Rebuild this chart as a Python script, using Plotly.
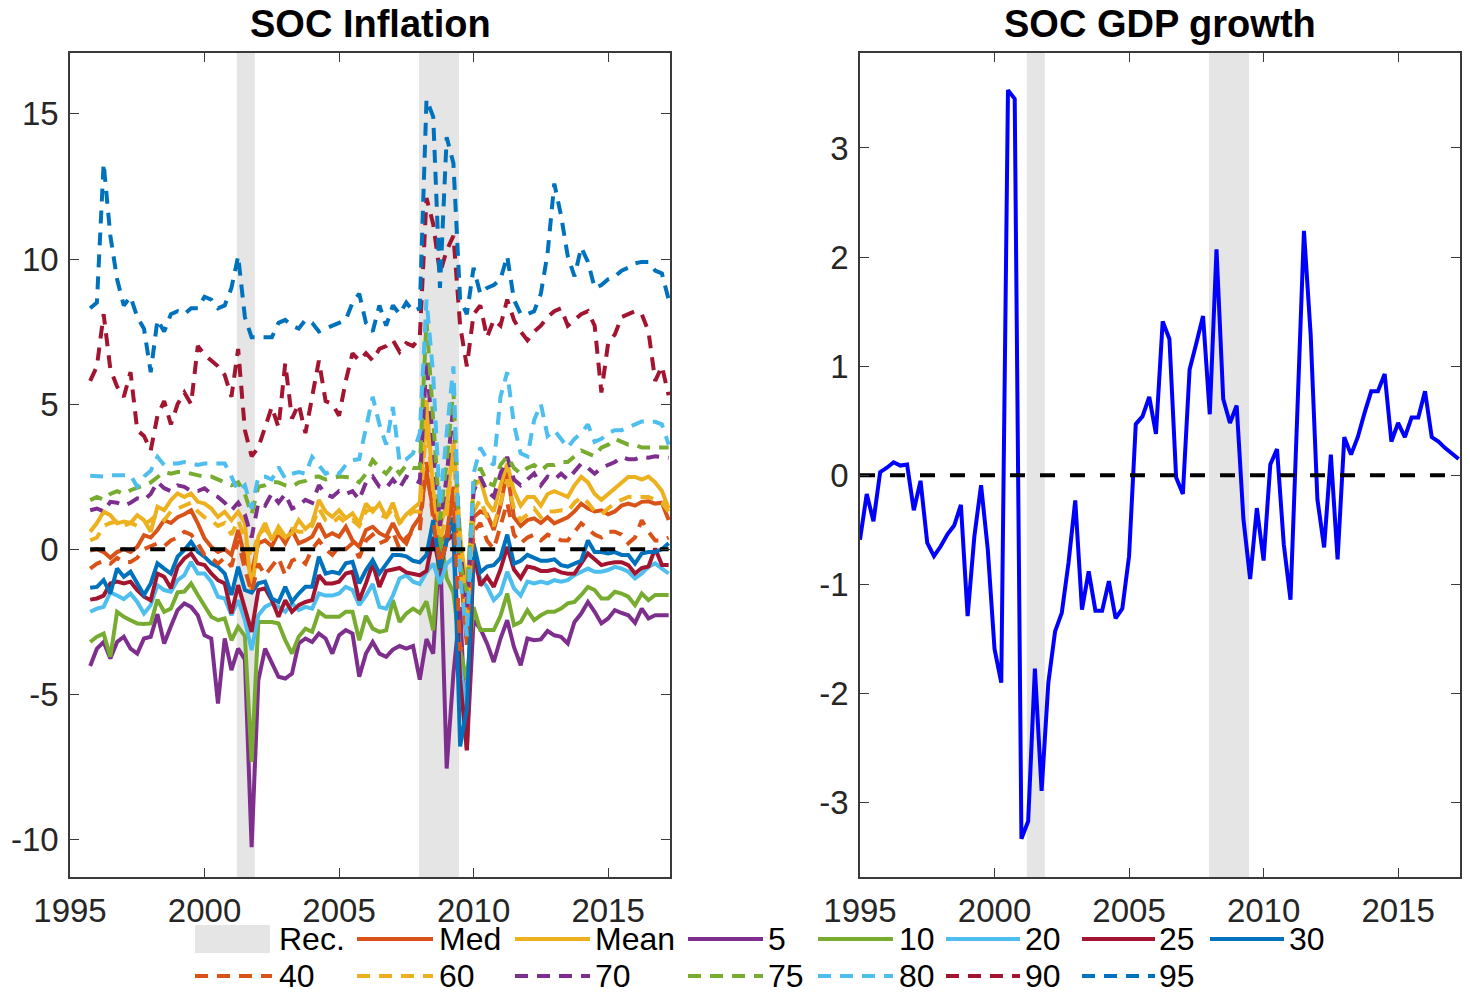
import plotly.graph_objects as go

# ---------------- DATA ----------------
# quarterly time stamps (decimal years)
infl_dates = [1995.75 + 0.25 * i for i in range(87)]
gdp_dates = [1995.0 + 0.25 * i for i in range(90)]

rec_start = [2001.2, 2007.97]
rec_end = [2001.87, 2009.46]

x_ticks = [1995, 2000, 2005, 2010, 2015]
y_ticks_infl = [-10, -5, 0, 5, 10, 15]
y_ticks_gdp = [-3, -2, -1, 0, 1, 2, 3]

med = [-0.05, 0.0, -0.1, -0.3, -0.1, 0.0, -0.1, 0.08, 0.48, 0.4,
       0.66, 1.0, 0.9, 1.1, 1.2, 1.34, 0.89, 0.37, 0.08, -0.1,
       0.0, -0.2, 0.66, -0.3, -0.8, 0.2, 0.3, 0.1, 0.55, 0.2,
       0.66, 0.2, 0.3, 0.43, 0.89, 0.43, 0.55, 0.43, 0.77, 0.3,
       0.08, 0.66, 0.77, 0.55, 0.43, 0.9, 0.43, 0.2, 0.77, 1.1,
       2.7, 1.3, 0.2, 0.5, 2.15, -0.5, -3.3, 1.1, 1.3, 1.2,
       0.66, 1.5, 2.7, 1.1, 0.8, 1.0, 1.06, 0.9, 1.1, 0.89,
       1.0, 1.1, 1.3, 1.57, 1.4, 1.3, 1.34, 1.2, 1.3, 1.5,
       1.57, 1.5, 1.63, 1.65, 1.57, 1.6, 1.0]
mean = [0.6, 0.9, 1.29, 1.17, 0.89, 0.95, 0.9, 1.17, 1.0, 0.6,
        1.46, 1.34, 1.69, 1.92, 1.8, 1.92, 1.63, 1.57, 1.4, 1.11,
        1.29, 1.0, 1.29, 0.9, -1.53, 0.43, 0.9, 0.31, 0.77, 0.43,
        0.55, 1.0, 0.7, 0.9, 1.69, 1.29, 1.11, 1.34, 1.06, 1.23,
        0.89, 1.57, 1.29, 1.57, 1.1, 1.6, 0.9, 1.2, 1.4, 1.6,
        5.14, 2.0, 0.8, 1.5, 3.76, 0.5, -1.5, 2.15, 2.4, 1.6,
        1.3, 2.2, 2.95, 2.0, 1.5, 1.8, 1.8, 1.5, 1.9, 2.0,
        1.9, 1.8, 2.2, 2.49, 2.3, 1.9, 1.7, 1.9, 2.1, 2.3,
        2.49, 2.49, 2.4, 2.5, 2.3, 2.0, 1.4]
p05 = [-4.03, -3.43, -3.2, -3.77, -3.2, -3.02, -3.43, -3.6, -3.08, -3.02,
       -2.24, -3.25, -2.66, -2.10, -1.87, -1.99, -2.28, -2.97, -3.08, -5.32,
       -3.08, -4.17, -3.43, -3.8, -10.27, -4.52, -3.43, -3.94, -4.4, -4.46,
       -4.29, -3.25, -3.08, -3.2, -2.91, -3.08, -3.6, -2.97, -2.79, -2.91,
       -4.4, -3.6, -3.2, -3.6, -3.71, -3.46, -3.34, -3.43, -3.34, -4.5,
       -3.1, -3.6, 0.3, -7.56, -4.3, -2.0, -6.93, -2.45, -2.74, -3.25,
       -3.89, -3.08, -2.45, -3.37, -4.0, -3.08, -3.14, -3.11, -2.82, -2.97,
       -3.02, -3.25, -2.51, -2.22, -1.82, -2.16, -2.56, -2.39, -2.10, -2.20,
       -2.28, -2.54, -2.05, -2.39, -2.28, -2.28, -2.28]
p10 = [-3.2, -3.02, -2.91, -3.71, -2.16, -2.33, -2.45, -2.56, -2.58, -2.56,
       -1.74, -2.16, -2.05, -1.49, -1.46, -1.18, -1.58, -1.93, -2.33, -2.45,
       -2.39, -3.14, -2.68, -3.0, -7.33, -2.51, -2.51, -2.51, -2.56, -3.14,
       -3.6, -3.02, -2.74, -2.85, -2.16, -2.33, -2.33, -2.33, -2.16, -2.16,
       -3.14, -2.3, -2.74, -2.85, -2.8, -1.76, -2.51, -2.22, -2.05, -2.2,
       -1.8, -2.8, 0.66, -1.0, -1.5, -3.5, -4.5, -2.0, -2.79, -2.79,
       -2.79, -2.3, -1.53, -2.62, -2.51, -2.11, -2.45, -2.28, -2.16, -2.16,
       -2.05, -1.87, -1.82, -1.58, -1.30, -1.41, -1.70, -1.70, -1.47, -1.53,
       -1.64, -1.93, -1.53, -1.76, -1.58, -1.58, -1.58]
p20 = [-2.16, -2.05, -1.99, -1.49, -1.6, -1.72, -1.53, -1.82, -2.22, -1.93,
       -1.24, -1.41, -1.47, -1.07, -0.9, -0.44, -0.84, -0.84, -1.12, -1.64,
       -1.7, -2.28, -1.76, -2.45, -3.48, -2.28, -1.99, -1.87, -1.99, -2.16,
       -1.87, -2.1, -1.99, -2.05, -1.53, -1.6, -1.6, -1.53, -1.3, -1.41,
       -1.93, -1.6, -1.2, -1.99, -2.05, -1.6, -1.01, -0.9, -1.12, -1.2,
       -0.8, -0.5, -1.2, -0.5, -0.3, -4.0, -5.5, -0.5, -1.01, -1.3,
       -1.76, -1.53, -0.78, -1.35, -1.6, -1.12, -1.18, -1.12, -1.18, -1.07,
       -1.12, -1.07, -0.9, -0.78, -0.67, -0.78, -0.78, -0.72, -0.61, -0.67,
       -0.78, -1.01, -0.84, -0.61, -0.49, -0.67, -0.84]
p25 = [-1.74, -1.7, -1.6, -1.18, -1.12, -1.18, -1.12, -1.41, -1.64, -1.76,
       -0.84, -0.95, -1.35, -0.61, -0.32, -0.15, -0.49, -0.55, -0.84, -1.07,
       -1.18, -2.22, -1.24, -1.99, -2.85, -1.41, -1.35, -1.76, -2.33, -1.76,
       -2.16, -1.93, -1.82, -1.76, -0.9, -1.18, -1.18, -1.12, -0.84, -0.78,
       -1.76, -1.18, -0.49, -1.3, -0.75, -0.7, -0.65, -0.8, -0.85, -0.9,
       -0.75, 0.42, -0.7, 0.3, 0.5, -4.5, -6.93, 0.0, -1.25, -0.95,
       -1.3, -0.7, 0.08, -0.7, -1.0, -0.6, -0.65, -0.75, -0.75, -0.7,
       -0.8, -0.85, -0.84, -0.5, -0.15, -0.35, -0.55, -0.49, -0.45, -0.45,
       -0.55, -0.84, -0.65, -0.6, 0.02, -0.55, -0.55]
p30 = [-1.33, -1.3, -1.07, -1.53, -0.67, -0.95, -0.78, -1.18, -1.58, -1.18,
       -0.49, -0.67, -0.84, -0.26, -0.03, 0.25, -0.09, -0.26, -0.49, -0.61,
       -0.84, -1.58, -0.61, -1.41, -1.5, -1.18, -1.12, -1.7, -1.82, -1.3,
       -1.82, -1.53, -1.3, -1.3, -0.26, -0.84, -0.78, -0.84, -0.49, -0.44,
       -1.18, -0.72, -0.38, -0.84, -0.5, -0.2, -0.2, -0.25, -0.4, -0.45,
       -0.2, 1.0, -0.66, 0.3, 1.1, -6.8, -5.5, 0.2, -0.8, -0.6,
       -0.55, -0.3, 0.5, -0.5, -0.4, -0.2, -0.3, -0.4, -0.4, -0.35,
       -0.55, -0.6, -0.5, -0.4, 0.3, -0.1, -0.1, -0.15, -0.1, -0.2,
       -0.2, -0.5, -0.15, -0.1, -0.1, 0.0, 0.2]
p40 = [-0.67, -0.5, -0.4, -0.5, -0.3, -0.44, -0.44, -0.3, 0.0, 0.1,
       0.2, 0.1, 0.3, 0.4, 0.6, 0.5, 0.2, -0.2, -0.3, -0.5,
       -0.3, -0.6, 0.3, -0.7, -1.5, -0.5, -0.9, -0.6, -0.3, -0.9,
       -0.4, -0.3, -0.5, 0.0, 0.3, 0.0, -0.2, 0.1, 0.0, 0.2,
       -0.3, 0.3, 0.5, 0.2, 0.3, 0.6, 0.0, 0.4, 0.6, 0.65,
       3.0, 1.0, -0.5, 0.2, 2.0, -3.5, -3.0, 0.6, 0.9, 0.3,
       0.0, 0.8, 1.6, 0.5, 0.2, 0.4, 0.5, 0.3, 0.5, 0.4,
       0.31, 0.3, 0.6, 0.89, 0.7, 0.5, 0.4, 0.6, 0.6, 0.5,
       0.2, 0.4, 1.0, 0.6, 0.3, 0.3, 0.4]
p60 = [0.3, 0.4, 0.8, 0.9, 0.95, 0.8, 0.9, 0.8, 0.85, 1.0,
       1.2, 1.0, 1.3, 1.4, 1.5, 1.6, 1.3, 1.1, 1.0, 0.8,
       0.9, 0.5, 1.0, 0.3, -0.3, 0.5, 0.7, 0.4, 0.6, 0.4,
       0.7, 0.6, 0.6, 0.8, 1.4, 1.0, 0.9, 1.1, 0.9, 1.0,
       0.8, 1.3, 1.4, 1.2, 1.1, 1.4, 0.9, 1.1, 1.3, 1.3,
       4.3, 2.0, 0.3, 1.2, 3.5, -0.5, -2.5, 1.3, 1.7, 1.1,
       0.8, 1.6, 2.4, 1.4, 1.0, 1.2, 1.4, 1.1, 1.3, 1.3,
       1.34, 1.3, 1.6, 1.8, 1.6, 1.3, 1.2, 1.4, 1.6, 1.7,
       1.8, 1.8, 1.8, 1.8, 1.7, 1.6, 1.3]
p70 = [1.34, 1.4, 1.3, 1.63, 1.6, 1.5, 1.6, 1.75, 1.7, 1.9,
       2.32, 2.1, 2.0, 2.2, 2.15, 2.0, 2.0, 2.1, 1.9, 1.8,
       1.6, 1.34, 1.6, 1.2, 0.4, 1.6, 1.5, 1.92, 1.6, 1.9,
       1.4, 1.5, 1.7, 1.6, 2.2, 1.9, 1.8, 2.0, 1.9, 2.0,
       1.7, 2.3, 2.5, 2.15, 2.1, 2.4, 2.1, 2.5, 2.4, 2.3,
       6.5, 3.5, 0.8, 2.5, 5.0, 0.0, -2.0, 2.0, 2.49, 2.0,
       1.8, 2.6, 3.18, 2.4, 2.2, 2.4, 2.61, 2.2, 2.5, 2.4,
       2.6, 2.4, 2.7, 2.95, 2.8, 2.6, 2.8, 2.9, 3.0, 3.18,
       3.1, 3.1, 3.18, 3.15, 3.2, 3.18, 3.15]
p75 = [1.69, 1.8, 1.7, 1.9, 2.0, 1.9, 2.03, 2.1, 2.2, 2.3,
       2.49, 2.66, 2.6, 2.66, 2.66, 2.6, 2.55, 2.49, 2.5, 2.4,
       2.3, 2.2, 2.3, 1.9, 1.2, 2.15, 2.2, 2.32, 2.3, 2.2,
       2.15, 2.3, 2.35, 2.49, 2.5, 2.4, 2.45, 2.5, 2.49, 2.45,
       2.3, 2.6, 3.07, 2.8, 2.6, 2.9, 2.6, 2.9, 2.8, 2.8,
       7.9, 4.5, 1.0, 3.0, 5.5, -0.5, -1.5, 2.2, 2.8, 2.3,
       2.2, 2.9, 3.2, 2.8, 2.6, 2.8, 2.9, 2.7, 2.9, 2.9,
       3.0, 3.0, 3.2, 3.4, 3.3, 3.2, 3.5, 3.6, 3.8, 3.7,
       3.6, 3.6, 3.5, 3.5, 3.5, 3.5, 3.5]
p80 = [2.53, 2.5, 2.5, 2.55, 2.55, 2.55, 2.55, 2.15, 2.5, 2.7,
       3.18, 2.9, 2.95, 2.95, 3.0, 2.95, 2.9, 2.95, 2.95, 2.95,
       2.95, 2.5, 2.0, 2.2, 1.4, 2.49, 2.5, 2.4, 2.83, 2.44,
       2.6, 2.66, 2.6, 3.18, 2.89, 2.6, 2.7, 2.6, 2.9, 3.07,
       3.1, 4.1, 5.25, 4.3, 3.6, 4.9, 3.0, 3.1, 3.3, 4.0,
       8.6, 6.0, 1.5, 4.0, 6.3, -1.0, -3.0, 2.6, 3.5, 3.1,
       2.9, 5.25, 6.1, 4.3, 3.3, 3.2, 4.45, 5.0, 3.9, 4.1,
       3.8, 3.5, 3.8, 4.0, 4.3, 3.7, 3.8, 4.0, 4.1, 4.1,
       4.2, 4.3, 4.4, 4.39, 4.39, 4.3, 3.6]
p90 = [5.8, 6.3, 8.1, 6.2, 5.6, 5.25, 6.1, 4.1, 3.9, 3.4,
       4.6, 5.1, 4.3, 5.0, 5.4, 5.0, 7.0, 6.7, 6.5, 6.3,
       6.0, 5.25, 6.9, 4.1, 3.2, 3.5, 4.2, 4.9, 4.2, 6.4,
       4.5, 5.0, 4.0, 5.2, 6.5, 5.1, 5.0, 4.6, 5.8, 6.75,
       6.5, 6.75, 6.5, 6.9, 7.0, 7.2, 6.8, 7.1, 7.0, 7.3,
       12.1, 11.2, 9.5, 10.3, 10.8, 7.7, 6.3, 8.1, 8.4, 7.3,
       7.9, 7.7, 8.6, 7.9, 7.5, 7.2, 7.5, 7.7, 8.0, 8.2,
       8.3, 7.7, 7.9, 8.1, 8.2, 7.7, 5.4, 7.1, 7.4, 8.0,
       8.1, 8.2, 8.1, 7.5, 5.8, 6.3, 5.3]
p95 = [8.3, 8.5, 13.3, 10.8, 9.3, 8.4, 8.7, 8.0, 7.6, 6.1,
       7.9, 7.5, 8.1, 8.2, 8.1, 8.3, 8.3, 8.7, 8.6, 8.3,
       8.4, 9.0, 10.1, 8.0, 7.3, 7.3, 7.3, 7.3, 7.8, 7.9,
       7.7, 7.6, 7.9, 7.8, 7.5, 7.6, 7.7, 7.8, 7.9, 8.5,
       8.8, 7.8, 7.5, 8.4, 7.7, 8.4, 8.1, 8.5, 8.2, 8.3,
       15.5, 14.9, 9.0, 14.2, 13.3, 8.6, 8.1, 9.7, 8.8, 9.0,
       9.1, 9.3, 10.1, 8.6, 8.1, 8.1, 8.2, 8.8, 10.2, 12.6,
       11.5, 10.1, 9.4, 10.4, 9.9, 9.0, 9.1, 9.3, 9.4, 9.6,
       9.7, 9.85, 9.9, 9.9, 9.6, 9.5, 8.6]

gdp = [-0.59, -0.17, -0.42, 0.03, 0.07, 0.12, 0.09, 0.10, -0.32, -0.05,
       -0.62, -0.74, -0.65, -0.54, -0.46, -0.27, -1.29, -0.56, -0.09, -0.68,
       -1.59, -1.90, 3.53, 3.45, -3.33, -3.17, -1.77, -2.89, -1.90, -1.43,
       -1.26, -0.80, -0.23, -1.23, -0.88, -1.24, -1.24, -0.97, -1.31, -1.22,
       -0.74, 0.47, 0.54, 0.72, 0.38, 1.41, 1.25, -0.02, -0.17, 0.97,
       1.21, 1.46, 0.56, 2.07, 0.70, 0.48, 0.64, -0.40, -0.95, -0.30,
       -0.78, 0.10, 0.24, -0.63, -1.14, 0.50, 2.24, 1.29, -0.22, -0.66,
       0.19, -0.77, 0.35, 0.19, 0.35, 0.57, 0.77, 0.77, 0.93, 0.31,
       0.48, 0.35, 0.53, 0.53, 0.77, 0.35, 0.31, 0.25, 0.20, 0.15]

series_names = ["Med", "Mean", "5", "10", "20", "25", "30",
                "40", "60", "70", "75", "80", "90", "95"]
series_values = [med, mean, p05, p10, p20, p25, p30,
                 p40, p60, p70, p75, p80, p90, p95]

# ---------------- STYLE ----------------
W, H = 1470, 993
FONT = "Liberation Sans, Arial, Helvetica, sans-serif"
palette = ["#D95319", "#EDB120", "#7E2F8E", "#77AC30", "#4DBEEE", "#A2142F", "#0072BD"]
colors = palette + palette
DASH = "13px,9px"
dashes = ["solid"] * 7 + [DASH] * 7
LW = 4
AX_COL = "#3a3a3a"
SHADE = "#E5E5E5"


def px(x):
    return x / W


def py(y):
    return 1 - y / H


def tick_text(vals):
    # MATLAB-style labels with a plain hyphen for negatives
    return [str(v) for v in vals]


fig = go.Figure()

for name, vals, col, dsh in zip(series_names, series_values, colors, dashes):
    fig.add_trace(go.Scatter(x=infl_dates, y=vals, mode="lines", name=name,
                             line=dict(color=col, width=LW, dash=dsh),
                             showlegend=False, xaxis="x", yaxis="y"))

# zero reference lines
fig.add_trace(go.Scatter(x=[infl_dates[0], infl_dates[-1]], y=[0, 0], mode="lines",
                         line=dict(color="black", width=4, dash="15px,15px"),
                         showlegend=False, xaxis="x", yaxis="y"))
fig.add_trace(go.Scatter(x=gdp_dates, y=gdp, mode="lines", name="GDP",
                         line=dict(color="#0000FF", width=LW),
                         showlegend=False, xaxis="x2", yaxis="y2"))
fig.add_trace(go.Scatter(x=[1995, 2017.3], y=[0, 0], mode="lines",
                         line=dict(color="black", width=4, dash="15px,15px"),
                         showlegend=False, xaxis="x2", yaxis="y2"))

shapes = []
for xs, xe in zip(rec_start, rec_end):
    for xr, yr in (("x", "y domain"), ("x2", "y2 domain")):
        shapes.append(dict(type="rect", xref=xr, yref=yr, x0=xs, x1=xe, y0=0, y1=1,
                           fillcolor=SHADE, line=dict(width=0), layer="below"))

# ---- manual legend (MATLAB style, 8 columns x 2 rows) ----
col_sym = [(195, 272), (357, 433), (515, 590), (688, 763), (818, 893),
           (946, 1020), (1082, 1155), (1210, 1284)]
col_txt = [277, 437, 593, 766, 897, 1023, 1157, 1287]
row_y = [939, 976]
annotations = []
legend_items = [("Rec.", None, None)] + list(zip(series_names, colors, dashes))
for k, (label, col, dsh) in enumerate(legend_items):
    r, c = (0, k) if k < 8 else (1, k - 8)
    x0, x1 = col_sym[c]
    yy = row_y[r]
    if col is None:
        shapes.append(dict(type="rect", xref="paper", yref="paper",
                           x0=px(x0), x1=px(x1 - 2), y0=py(yy + 14), y1=py(yy - 14),
                           fillcolor=SHADE, line=dict(width=0)))
    else:
        shapes.append(dict(type="line", xref="paper", yref="paper",
                           x0=px(x0), x1=px(x1), y0=py(yy), y1=py(yy),
                           line=dict(color=col, width=LW, dash=dsh)))
    annotations.append(dict(text=label, xref="paper", yref="paper", x=px(col_txt[c]),
                            y=py(yy), xanchor="left", yanchor="middle", showarrow=False,
                            font=dict(family=FONT, size=32, color="black")))

# titles
annotations.append(dict(text="<b>SOC Inflation</b>", xref="paper", yref="paper",
                        x=px(370), y=py(24), xanchor="center", yanchor="middle",
                        showarrow=False, font=dict(family=FONT, size=38, color="black")))
annotations.append(dict(text="<b>SOC GDP growth</b>", xref="paper", yref="paper",
                        x=px(1160), y=py(24), xanchor="center", yanchor="middle",
                        showarrow=False, font=dict(family=FONT, size=38, color="black")))

axis_common = dict(showline=True, linecolor=AX_COL, linewidth=1.5, mirror="ticks",
                   ticks="inside", ticklen=9, tickwidth=1.2, tickcolor=AX_COL,
                   showgrid=False, zeroline=False, automargin=False,
                   tickfont=dict(family=FONT, size=33, color="#262626"))

ydom = [py(877), py(53)]
fig.update_layout(
    width=W, height=H, margin=dict(l=0, r=0, t=0, b=0, autoexpand=False),
    paper_bgcolor="white", plot_bgcolor="white",
    xaxis=dict(domain=[px(70), px(670)], range=[1995, 2017.3],
               tickvals=x_ticks, ticktext=tick_text(x_ticks), anchor="y",
               ticklabelstandoff=4, **axis_common),
    yaxis=dict(domain=ydom, range=[-11.3, 17.1], tickvals=y_ticks_infl,
               ticktext=tick_text(y_ticks_infl),
               anchor="x", ticklabelstandoff=3, **axis_common),
    xaxis2=dict(domain=[px(860), px(1460)], range=[1995, 2017.3],
                tickvals=x_ticks, ticktext=tick_text(x_ticks), anchor="y2",
                ticklabelstandoff=4, **axis_common),
    yaxis2=dict(domain=ydom, range=[-3.68, 3.87], tickvals=y_ticks_gdp,
                ticktext=tick_text(y_ticks_gdp),
                anchor="x2", ticklabelstandoff=3, **axis_common),
    shapes=shapes, annotations=annotations, showlegend=False,
)

fig.write_html("out.html", config={"displayModeBar": False},
               post_script="document.body.style.margin='0';document.body.style.overflow='hidden';")
